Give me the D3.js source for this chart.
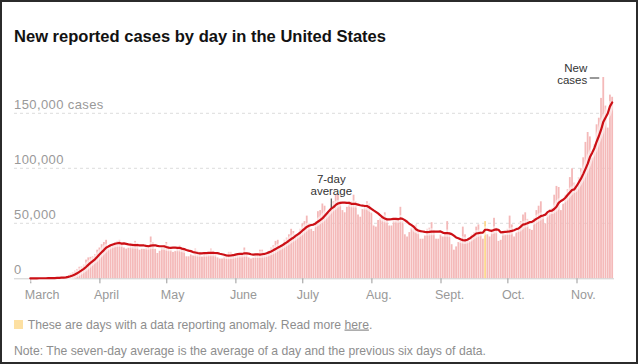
<!DOCTYPE html>
<html><head><meta charset="utf-8">
<script src="https://cdn.jsdelivr.net/npm/d3@7"></script>
<style>
html,body{margin:0;padding:0;background:#fff;}
svg{display:block;}
text{font-family:"Liberation Sans",Arial,Helvetica,sans-serif;}
</style></head><body>
<svg id="chart" width="638" height="364"></svg>
<script>
// ---------- data ----------
const startDate = "2020-03-01";
const casesMar = [10, 25, 20, 30, 70, 65, 100, 120, 180, 290, 400, 470, 700, 720, 970, 1250, 1800, 2900, 4500, 5700, 7000, 8500, 10500, 10900, 12500, 17000, 19000, 19500, 20000, 22000, 26000];
const casesApr = [28000, 31000, 33000, 35000, 27000, 30000, 31000, 33000, 34000, 35000, 31000, 28000, 27000, 28000, 31000, 32000, 34000, 32000, 26000, 27000, 27000, 28000, 30000, 38000, 33000, 27000, 23000, 25000, 28000, 30000];
const casesMay = [33000, 29000, 26000, 24000, 25000, 27000, 30000, 28000, 26000, 20000, 20000, 22000, 21000, 27000, 25000, 24000, 20000, 22000, 21000, 23000, 27000, 25000, 23000, 19000, 18000, 18000, 20000, 22000, 24000, 24000, 21000];
const casesJun = [22000, 21000, 21000, 22000, 28000, 24000, 19000, 18000, 19000, 22000, 23000, 26000, 26000, 21000, 22000, 25000, 28000, 30000, 34000, 35000, 28000, 30000, 35000, 37000, 40000, 45000, 43000, 40000, 40000, 45000];
const casesJul = [50000, 52000, 57000, 50000, 45000, 43000, 52000, 61000, 62000, 68000, 66000, 60000, 60000, 67000, 70000, 76000, 77000, 70000, 62000, 60000, 65000, 70000, 70000, 76000, 70000, 58000, 56000, 63000, 67000, 70000, 68000];
const casesAug = [60000, 48000, 47000, 53000, 55000, 57000, 60000, 55000, 48000, 48000, 55000, 55000, 55000, 65000, 52000, 40000, 38000, 42000, 46000, 45000, 49000, 44000, 36000, 36000, 39000, 45000, 46000, 51000, 44000, 36000, 36000];
const casesSep = [40000, 38000, 42000, 52000, 42000, 31000, 26000, 29000, 33000, 35000, 47000, 40000, 35000, 34000, 40000, 42000, 47000, 49000, 43000, 36000, 52000, 40000, 38000, 44000, 55000, 46000, 34000, 35000, 42000, 40000];
const casesOct = [45000, 57000, 49000, 38000, 42000, 46000, 52000, 58000, 60000, 54000, 45000, 44000, 55000, 62000, 66000, 70000, 58000, 50000, 60000, 63000, 64000, 76000, 84000, 83000, 62000, 68000, 76000, 81000, 92000, 100000, 87000];
const casesNov = [82000, 92000, 100000, 110000, 124000, 133000, 129000, 110000, 122000, 140000, 146000, 164000, 183000, 157000, 137000, 167000, 165000];
const anomalyDays = ["2020-09-21"];
const monthTicks = ["2020-03-01","2020-04-01","2020-05-01","2020-06-01","2020-07-01","2020-08-01","2020-09-01","2020-10-01","2020-11-01"];
const monthLabels = ["March","April","May","June","July","Aug.","Sept.","Oct.","Nov."];
const yTicks = [0, 50000, 100000, 150000];
const yTickLabels = ["0", "50,000", "100,000", "150,000 cases"];
const avgNoteDate = "2020-07-14";
const newNoteDate = "2020-11-13";

// ---------- build ----------
const newCases = [].concat(casesMar, casesApr, casesMay, casesJun, casesJul, casesAug, casesSep, casesOct, casesNov);
const parse = d3.utcParse("%Y-%m-%d");
const fmt = d3.utcFormat("%Y-%m-%d");
const t0 = parse(startDate);
const anomalySet = new Set(anomalyDays);
const data = newCases.map((v, i) => ({
  date: d3.utcDay.offset(t0, i),
  value: v,
  avg: d3.mean(newCases.slice(Math.max(0, i - 6), i + 1))
}));

const svg = d3.select("#chart");
const x = d3.scaleUtc().domain([parse("2020-03-01"), parse("2020-11-01")]).range([30.3, 576.5]);
const y = d3.scaleLinear().domain([0, 150000]).range([278.3, 113.3]);
const left = 14, right = 614;
const bw = 1.8;

// frame
svg.append("rect").attr("x", 1).attr("y", 1).attr("width", 636).attr("height", 362)
  .attr("fill", "none").attr("stroke", "#2b2b2b").attr("stroke-width", 2);

// title
svg.append("text").attr("x", 14).attr("y", 42)
  .attr("font-size", 17).attr("font-weight", "bold").attr("fill", "#121212")
  .attr("textLength", 372).attr("lengthAdjust", "spacingAndGlyphs")
  .text("New reported cases by day in the United States");

// grid + y labels
const grid = svg.append("g");
yTicks.forEach((t, i) => {
  if (t > 0) {
    grid.append("line").attr("x1", left).attr("x2", right)
      .attr("y1", y(t)).attr("y2", y(t))
      .attr("stroke", "#dcdcdc").attr("stroke-width", 1).attr("stroke-dasharray", "3,3");
  }
  grid.append("text").attr("x", left).attr("y", y(t) - 4)
    .attr("font-size", 13).attr("letter-spacing", "0.4px").attr("fill", "#999")
    .text(yTickLabels[i]);
});

// bars
svg.append("g").selectAll("rect").data(data).join("rect")
  .attr("x", d => x(d.date) - bw / 2)
  .attr("width", bw)
  .attr("y", d => y(d.value))
  .attr("height", d => y(0) - y(d.value))
  .attr("fill", d => anomalySet.has(fmt(d.date)) ? "#fcd88e" : "#f4b9b9");

// baseline
svg.append("line").attr("x1", left).attr("x2", right).attr("y1", y(0) + 0.5).attr("y2", y(0) + 0.5)
  .attr("stroke", "#cfcfcf").attr("stroke-width", 1);

// x axis
const xAxis = d3.axisBottom(x)
  .tickValues(monthTicks.map(parse))
  .tickSize(5)
  .tickFormat((d, i) => monthLabels[i]);
const gx = svg.append("g").attr("transform", `translate(0,${y(0)})`).call(xAxis);
gx.select(".domain").remove();
gx.selectAll(".tick line").attr("stroke", "#999");
gx.selectAll(".tick text").attr("text-anchor", "start").attr("x", -6).attr("y", 20.7).attr("dy", 0)
  .attr("font-size", 12.5).attr("fill", "#999").attr("font-family", null);

// 7-day average line
const line = d3.line().x(d => x(d.date)).y(d => y(d.avg));
svg.append("path").datum(data).attr("d", line)
  .attr("fill", "none").attr("stroke", "#fff").attr("stroke-opacity", 0.55)
  .attr("stroke-width", 7).attr("stroke-linejoin", "round");
svg.append("path").datum(data).attr("d", line)
  .attr("fill", "none").attr("stroke", "#cc1016").attr("stroke-width", 2.2)
  .attr("stroke-linejoin", "round").attr("stroke-linecap", "round");

// annotation: 7-day average
const aD = data.find(d => fmt(d.date) === avgNoteDate);
const ax = x(aD.date), ay = y(aD.avg);
svg.append("line").attr("x1", ax).attr("x2", ax).attr("y1", ay - 10).attr("y2", ay - 1)
  .attr("stroke", "#333").attr("stroke-width", 1);
svg.append("text").attr("x", ax).attr("y", ay - 26).attr("text-anchor", "middle")
  .attr("font-size", 11.5).attr("fill", "#333").text("7-day");
svg.append("text").attr("x", ax).attr("y", ay - 14).attr("text-anchor", "middle")
  .attr("font-size", 11.5).attr("fill", "#333").text("average");

// annotation: New cases
const nD = data.find(d => fmt(d.date) === newNoteDate);
const nx = x(nD.date) - 4, ny = y(nD.value) + 1;
svg.append("line").attr("x1", nx - 9.5).attr("x2", nx).attr("y1", ny).attr("y2", ny)
  .attr("stroke", "#333").attr("stroke-width", 1);
svg.append("text").attr("x", nx - 12).attr("y", ny - 6.5).attr("text-anchor", "end")
  .attr("font-size", 11.5).attr("fill", "#333").text("New");
svg.append("text").attr("x", nx - 12).attr("y", ny + 5.7).attr("text-anchor", "end")
  .attr("font-size", 11.5).attr("fill", "#333").text("cases");

// legend
svg.append("rect").attr("x", 14).attr("y", 320).attr("width", 9).attr("height", 9).attr("fill", "#fde0a2");
const lt = svg.append("text").attr("x", 27.7).attr("y", 328.5).attr("font-size", 12.2).attr("fill", "#8e8e8e");
lt.append("tspan").text("These are days with a data reporting anomaly. Read more ");
lt.append("tspan").attr("text-decoration", "underline").text("here");
lt.append("tspan").text(".");

// note
svg.append("text").attr("x", 14).attr("y", 354.5).attr("font-size", 12.2).attr("fill", "#8e8e8e")
  .text("Note: The seven-day average is the average of a day and the previous six days of data.");
</script>
</body></html>
